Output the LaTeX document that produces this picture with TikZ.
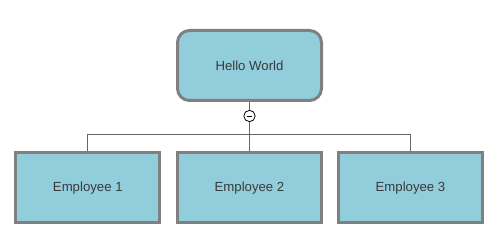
\documentclass[tikz,border=0pt]{standalone}
\usepackage{fontspec}
\setmainfont{Liberation Sans}
\usetikzlibrary{positioning}
\definecolor{boxblue}{HTML}{92CDDC}
\definecolor{boxgray}{HTML}{808080}
\definecolor{linegray}{HTML}{666666}
\definecolor{txtgray}{HTML}{3A3A3A}

\begin{document}
\begin{tikzpicture}[x=0.75pt,y=-0.75pt,
  box/.style={draw=boxgray,line width=2.25pt,fill=boxblue,text=txtgray,
    minimum width=108pt,minimum height=52.5pt,inner sep=0pt,
    font=\fontsize{9.9}{12}\selectfont},
  link/.style={draw=linegray,line width=0.75pt}]
  \useasboundingbox (0,0) rectangle (501,242);
  \node[box,rounded corners=9pt] (hw) at (249.5,65.5) {Hello World};
  \node[box] (e1) at (87.8,188) {Employee 1};
  \node[box] (e2) at (249.5,188) {Employee 2};
  \node[box] (e3) at (410.5,188) {Employee 3};
  \coordinate (split) at (249.5,135);
  \node[circle,draw=black,line width=0.6pt,fill=white,minimum size=8.5pt,inner sep=0pt,
    path picture={\draw[line width=0.6pt] ([xshift=-2.2pt]path picture bounding box.center)
      -- ([xshift=2.2pt]path picture bounding box.center);}] (toggle) at (249.5,116) {};
  \draw[link] (hw.south) -- (toggle.north);
  \draw[link] (toggle.south) -- (split);
  \draw[link] (split) -| (e1.north);
  \draw[link] (split) -| (e3.north);
  \draw[link] (split) -- (e2.north);
\end{tikzpicture}
\end{document}
